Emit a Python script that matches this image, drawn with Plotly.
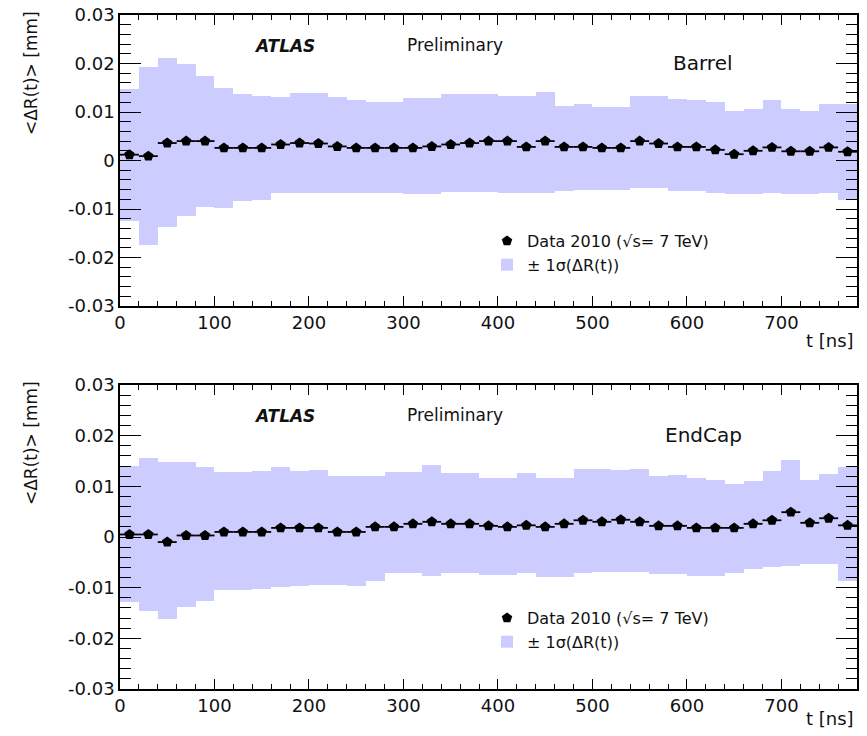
import plotly.graph_objects as go
from plotly.subplots import make_subplots

# ---------------- data ----------------
t_centers = [10, 30, 50, 70, 90, 110, 130, 150, 170, 190, 210, 230, 250, 270, 290,
             310, 330, 350, 370, 390, 410, 430, 450, 470, 490, 510, 530, 550, 570,
             590, 610, 630, 650, 670, 690, 710, 730, 750, 770]
bin_half_width = 10

barrel_mean = [0.0012, 0.0009, 0.0036, 0.0040, 0.0040, 0.0026, 0.0026, 0.0026, 0.0033, 0.0036,
               0.0035, 0.0029, 0.0026, 0.0026, 0.0026, 0.0026, 0.0029, 0.0033, 0.0036, 0.0040,
               0.0040, 0.0028, 0.0040, 0.0028, 0.0028, 0.0026, 0.0026, 0.0040, 0.0035, 0.0028,
               0.0028, 0.0022, 0.0013, 0.0020, 0.0027, 0.0019, 0.0019, 0.0027, 0.0018]
barrel_upper = [0.0148, 0.0192, 0.0212, 0.0198, 0.0174, 0.0150, 0.0138, 0.0134, 0.0131, 0.0140,
                0.0140, 0.0130, 0.0124, 0.0121, 0.0121, 0.0128, 0.0128, 0.0138, 0.0138, 0.0138,
                0.0134, 0.0132, 0.0142, 0.0112, 0.0117, 0.0110, 0.0110, 0.0134, 0.0134, 0.0126,
                0.0124, 0.0120, 0.0103, 0.0107, 0.0124, 0.0107, 0.0102, 0.0117, 0.0117]
barrel_lower = [-0.0124, -0.0174, -0.0138, -0.0114, -0.0095, -0.0097, -0.0084, -0.0081, -0.0066, -0.0068,
                -0.0066, -0.0068, -0.0067, -0.0066, -0.0068, -0.0070, -0.0070, -0.0064, -0.0064, -0.0064,
                -0.0066, -0.0068, -0.0066, -0.0062, -0.0060, -0.0060, -0.0060, -0.0057, -0.0057, -0.0062,
                -0.0062, -0.0066, -0.0070, -0.0070, -0.0066, -0.0069, -0.0069, -0.0066, -0.0081]

endcap_mean = [0.0005, 0.0005, -0.0010, 0.0003, 0.0003, 0.0010, 0.0010, 0.0010, 0.0018, 0.0018,
               0.0018, 0.0010, 0.0010, 0.0020, 0.0020, 0.0026, 0.0030, 0.0026, 0.0026, 0.0022,
               0.0020, 0.0023, 0.0020, 0.0026, 0.0033, 0.0030, 0.0034, 0.0030, 0.0022, 0.0022,
               0.0018, 0.0018, 0.0018, 0.0026, 0.0033, 0.0049, 0.0028, 0.0037, 0.0023]
endcap_upper = [0.0141, 0.0155, 0.0149, 0.0148, 0.0139, 0.0128, 0.0128, 0.0130, 0.0139, 0.0130,
                0.0133, 0.0120, 0.0120, 0.0120, 0.0128, 0.0128, 0.0143, 0.0126, 0.0126, 0.0117,
                0.0117, 0.0126, 0.0117, 0.0117, 0.0135, 0.0135, 0.0132, 0.0135, 0.0120, 0.0122,
                0.0117, 0.0113, 0.0105, 0.0111, 0.0130, 0.0151, 0.0113, 0.0124, 0.0139]
endcap_lower = [-0.0128, -0.0146, -0.0162, -0.0139, -0.0127, -0.0104, -0.0104, -0.0102, -0.0099, -0.0097,
                -0.0095, -0.0095, -0.0097, -0.0086, -0.0072, -0.0072, -0.0077, -0.0072, -0.0072, -0.0075,
                -0.0075, -0.0072, -0.0079, -0.0079, -0.0072, -0.0069, -0.0069, -0.0069, -0.0074, -0.0074,
                -0.0076, -0.0076, -0.0072, -0.0064, -0.0059, -0.0057, -0.0054, -0.0053, -0.0087]

x_tickvals = [0, 100, 200, 300, 400, 500, 600, 700]
x_ticktext = ["0", "100", "200", "300", "400", "500", "600", "700"]
y_tickvals = [-0.03, -0.02, -0.01, 0, 0.01, 0.02, 0.03]
y_ticktext = ["-0.03", "-0.02", "-0.01", "0", "0.01", "0.02", "0.03"]

data_label = "Data 2010 (√s= 7 TeV)"
band_label = "± 1σ(ΔR(t))"
panel_labels = ["Barrel", "EndCap"]

# ---------------- layout helpers ----------------
W, H = 867, 736
ML, MR, MT, MB = 120, 10, 15, 47
PW, PH = W - ML - MR, H - MT - MB


def px(xp):
    return (xp - ML) / PW


def py(yp):
    return (H - MB - yp) / PH


FONT = "DejaVu Sans"
BAND = "#ccccff"
TXT = "#111111"

fig = make_subplots(rows=2, cols=1, vertical_spacing=0.117)

panels = [
    (barrel_mean, barrel_upper, barrel_lower, "legend"),
    (endcap_mean, endcap_upper, endcap_lower, "legend2"),
]
for i, (mean, up, lo, leg) in enumerate(panels, start=1):
    fig.add_trace(go.Bar(
        x=t_centers, y=[u - l for u, l in zip(up, lo)], base=lo, width=2 * bin_half_width,
        marker=dict(color=BAND, line=dict(width=0)), name=band_label,
        legend=leg, legendrank=2, hoverinfo="skip"), row=i, col=1)
    fig.add_trace(go.Scatter(
        x=t_centers, y=mean, mode="markers", name=data_label,
        marker=dict(symbol="pentagon", size=11, color="black"),
        error_x=dict(type="constant", value=bin_half_width, thickness=1.8, width=0, color="black"),
        legend=leg, legendrank=1), row=i, col=1)

axis_common = dict(showline=True, linecolor="black", linewidth=1.5, mirror="allticks",
                   showgrid=False, zeroline=False, ticks="inside", automargin=False,
                   tickfont=dict(family=FONT, size=18, color=TXT))
fig.update_xaxes(range=[0, 780], tickvals=x_tickvals, ticktext=x_ticktext,
                 ticklen=10, tickwidth=1.3, tickcolor="black",
                 minor=dict(dtick=20, ticks="inside", ticklen=5, tickwidth=1.2, tickcolor="black"),
                 **axis_common)
fig.update_yaxes(range=[-0.03, 0.03], tickvals=y_tickvals, ticktext=y_ticktext,
                 ticklen=21, tickwidth=1.3, tickcolor="black",
                 minor=dict(dtick=0.002, tick0=0, ticks="inside", ticklen=11, tickwidth=1.2, tickcolor="black"),
                 **axis_common)
fig.update_layout(yaxis=dict(domain=[py(306), 1.0]), yaxis2=dict(domain=[0.0, py(385)]))

annotations = []
# per-panel texts, positions in pixels (top panel, bottom panel)
for k, dy in enumerate([0, 370]):
    annotations += [
        dict(text="<b><i>ATLAS</i></b>", x=px(284), y=py(46 + dy), font=dict(family=FONT, size=17, color=TXT)),
        dict(text="Preliminary", x=px(455), y=py(45 + dy), font=dict(family=FONT, size=17, color=TXT)),
        dict(text=panel_labels[k], x=px(703), y=py(63 + dy + (2 if k else 0)), font=dict(family=FONT, size=20, color=TXT)),
        dict(text="&lt;ΔR(t)&gt; [mm]", x=px(31), y=py(73 + dy), textangle=-90,
             font=dict(family=FONT, size=17, color=TXT)),
        dict(text="t [ns]", x=px(856), y=py(340 + dy + (8 if k else 0)), xanchor="right",
             font=dict(family=FONT, size=18, color=TXT)),
    ]
for a in annotations:
    a.update(xref="paper", yref="paper", showarrow=False)
    a.setdefault("xanchor", "center")
    a.setdefault("yanchor", "middle")

legend_common = dict(xref="paper", yref="paper", xanchor="left", yanchor="top",
                     bgcolor="rgba(0,0,0,0)", font=dict(family=FONT, size=16, color=TXT),
                     tracegroupgap=0, itemclick=False)

fig.update_layout(
    width=W, height=H,
    margin=dict(l=ML, r=MR, t=MT, b=MB, autoexpand=False),
    paper_bgcolor="white", plot_bgcolor="white",
    bargap=0, showlegend=True,
    annotations=annotations,
    legend=dict(x=px(487), y=py(224), **legend_common),
    legend2=dict(x=px(487), y=py(601), **legend_common),
)

fig.write_html("out.html", config={"displayModeBar": False},
               post_script="document.body.style.margin='0';document.body.style.overflow='hidden';")
